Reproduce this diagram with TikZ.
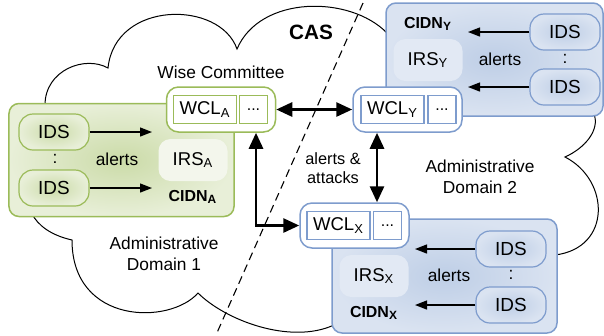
\documentclass[tikz,border=0pt]{standalone}
\usepackage{fontspec}
\setmainfont{Liberation Sans}
\usetikzlibrary{arrows.meta,calc}
\definecolor{grnline}{RGB}{155,187,89}
\definecolor{grnlight}{RGB}{232,239,216}
\definecolor{grndark}{RGB}{203,219,168}
\definecolor{grnirs}{RGB}{243,246,236}
\definecolor{bluline}{RGB}{126,156,205}
\definecolor{blulight}{RGB}{218,227,241}
\definecolor{bludark}{RGB}{190,206,230}
\definecolor{bluirs}{RGB}{226,233,244}
\tikzset{
  cidnbox/.style={draw=#1line, line width=0.75bp, rounded corners=5bp,
    inner color=#1dark, outer color=#1light,
    minimum width=112.5bp, minimum height=56.5bp},
  idsbox/.style={draw=#1line, line width=0.6bp, rounded corners=7bp,
    inner color=#1dark, outer color=#1light,
    minimum width=35bp, minimum height=18bp, inner sep=0pt,
    font=\fontsize{9.5}{11}\selectfont},
  irsbox/.style={fill=#1irs, rounded corners=6bp,
    minimum width=34.5bp, minimum height=21bp, inner sep=0pt,
    font=\fontsize{9.3}{11}\selectfont},
  wclouter/.style={draw=#1line, line width=0.75bp, fill=white, rounded corners=6bp,
    minimum width=54.5bp, minimum height=22.5bp},
  wclbox/.style={draw=#1line, line width=0.6bp, fill=white,
    minimum width=31.5bp, minimum height=14bp, inner sep=0pt,
    font=\fontsize{9.3}{11}\selectfont},
  dotbox/.style={draw=#1line, line width=0.6bp, fill=white,
    minimum width=14bp, minimum height=14bp, inner sep=0pt,
    font=\fontsize{8}{10}\selectfont},
  lbl/.style={inner sep=0pt, font=\fontsize{8.7}{10.5}\selectfont, align=center},
  cidnlbl/.style={inner sep=0pt, font=\fontsize{8}{10}\selectfont\bfseries},
  thinarrow/.style={line width=0.65bp, -{Triangle[length=6bp,width=4.5bp]}},
  bigarrow/.style={line width=1.4bp, {Triangle[length=8bp,width=7bp]}-{Triangle[length=8bp,width=7bp]}}
}
\begin{document}
\begin{tikzpicture}[x=0.5bp,y=-0.5bp]
\useasboundingbox (0,0) rectangle (604,335);
% the CAS cloud
\draw[line width=0.5bp, fill=white] (45,105)
  .. controls (45,70) and (85,55) .. (108,68)
  .. controls (115,0) and (220,0) .. (237,49)
  .. controls (260,-5) and (350,-5) .. (387,33)
  -- (594,114)
  .. controls (600,130) and (585,148) .. (565,157)
  .. controls (610,180) and (612,248) .. (555,255)
  -- (334,325)
  .. controls (290,345) and (225,320) .. (198,293)
  .. controls (170,325) and (72,325) .. (72,240)
  .. controls (50,235) and (38,225) .. (32,214)
  -- cycle;
\draw[line width=0.55bp, dash pattern=on 4bp off 2.5bp] (363,3) -- (216,335);
\node[inner sep=0pt, font=\fontsize{10.4}{12}\selectfont\bfseries] (cas) at (311,32) {CAS};

% domain A
\node[cidnbox=grn] (cidnA) at (121.5,160) {};
\node[idsbox=grn] (idsA1) at (54,132) {IDS};
\node[idsbox=grn] (idsA2) at (54,188) {IDS};
\node[lbl] (colA) at (55,159) {:};
\node[lbl] (alertsA) at (117,159) {alerts};
\node[irsbox=grn] (irsA) at (193,160) {IRS\textsubscript{A}};
\node[cidnlbl] (cidnAlbl) at (193,197) {CIDN\textsubscript{A}};
\coordinate (tipA1) at (152,132);
\coordinate (tipA2) at (152,188);
\draw[thinarrow] (idsA1) -- (tipA1);
\draw[thinarrow] (idsA2) -- (tipA2);

% domain Y
\node[cidnbox=blu, minimum width=108.5bp] (cidnY) at (494.5,59.5) {};
\node[idsbox=blu] (idsY1) at (565,32) {IDS};
\node[idsbox=blu] (idsY2) at (565,87) {IDS};
\node[lbl] (colY) at (565,59) {:};
\node[lbl] (alertsY) at (500,59) {alerts};
\node[irsbox=blu] (irsY) at (428,60) {IRS\textsubscript{Y}};
\node[cidnlbl] (cidnYlbl) at (428,24) {CIDN\textsubscript{Y}};
\coordinate (tipY1) at (468,32);
\coordinate (tipY2) at (468,87);
\draw[thinarrow] (idsY1) -- (tipY1);
\draw[thinarrow] (idsY2) -- (tipY2);

% domain X
\node[cidnbox=blu, minimum height=57bp] (cidnX) at (444.5,276) {};
\node[idsbox=blu] (idsX1) at (511,249) {IDS};
\node[idsbox=blu] (idsX2) at (511,305) {IDS};
\node[lbl] (colX) at (511,275) {:};
\node[lbl] (alertsX) at (449,275) {alerts};
\node[irsbox=blu] (irsX) at (374,276) {IRS\textsubscript{X}};
\node[cidnlbl] (cidnXlbl) at (374,313) {CIDN\textsubscript{X}};
\coordinate (tipX1) at (415,249);
\coordinate (tipX2) at (415,305);
\draw[thinarrow] (idsX1) -- (tipX1);
\draw[thinarrow] (idsX2) -- (tipX2);

% wise committee
\node[lbl] (wise) at (221,72) {Wise Committee};
\node[wclouter=grn] (wclA) at (221,109.5) {};
\node[wclbox=grn] (wclAin) at ($(wclA)+(-16,0)$) {WCL\textsubscript{A}};
\node[dotbox=grn] (wclAdots) at ($(wclA)+(32.5,0)$) {...};
\node[wclouter=blu] (wclY) at (407.5,109.5) {};
\node[wclbox=blu] (wclYin) at ($(wclY)+(-15,0)$) {WCL\textsubscript{Y}};
\node[dotbox=blu] (wclYdots) at ($(wclY)+(34.5,0)$) {...};
\node[wclouter=blu] (wclX) at (354.5,225.5) {};
\node[wclbox=blu] (wclXin) at ($(wclX)+(-16,0)$) {WCL\textsubscript{X}};
\node[dotbox=blu] (wclXdots) at ($(wclX)+(33,0)$) {...};

\draw[bigarrow] (wclA) -- (wclY);
\draw[bigarrow] (wclY.south -| 377,0) -- (wclX.north -| 377,0);
\draw[bigarrow, sharp corners] (wclA.south -| 256,0) |- (wclX);

\node[lbl, font=\fontsize{8.2}{9.6}\selectfont] (alatt) at (333,168) {alerts \&\\attacks};
\node[lbl] (dom2) at (480,177) {Administrative\\Domain 2};
\node[lbl] (dom1) at (164,254) {Administrative\\Domain 1};
\end{tikzpicture}
\end{document}
